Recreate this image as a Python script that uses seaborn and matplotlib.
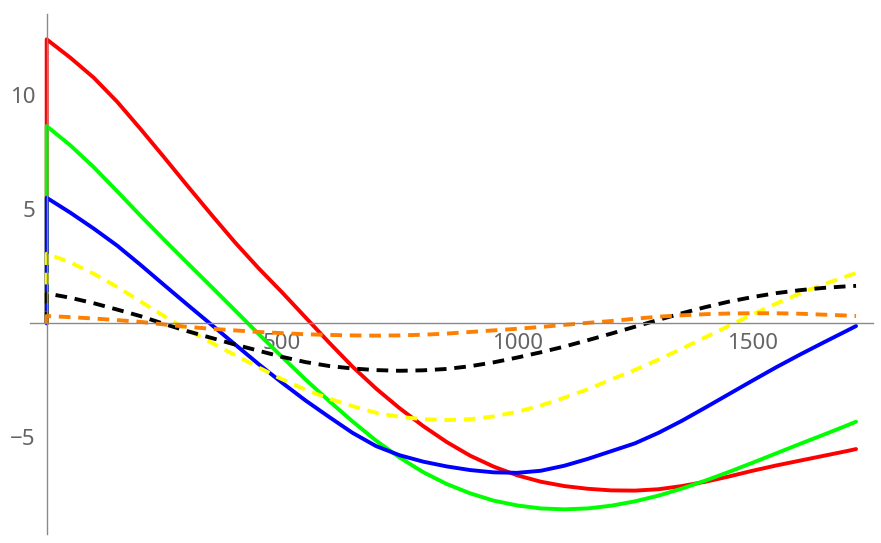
import numpy as np
import pandas as pd
import matplotlib
matplotlib.use("Agg")
import matplotlib.pyplot as plt
import seaborn as sns
from matplotlib.ticker import FixedLocator

# x positions where values were read (the doubled 0 gives the jump at x = 0)
xs = [0] + list(range(0, 1701, 50)) + [1720]

red = [0, 12.44, 11.64, 10.76, 9.7, 8.5, 7.26, 6.0, 4.76, 3.55, 2.42, 1.36, 0.26,
       -0.84, -1.9, -2.86, -3.72, -4.5, -5.2, -5.8, -6.28, -6.66, -6.94, -7.13,
       -7.25, -7.32, -7.33, -7.27, -7.13, -6.94, -6.71, -6.46, -6.23, -6.02, -5.81,
       -5.6, -5.51]
green = [0, 8.64, 7.8, 6.84, 5.78, 4.7, 3.65, 2.62, 1.6, 0.57, -0.46, -1.47, -2.46,
         -3.4, -4.3, -5.14, -5.88, -6.52, -7.04, -7.45, -7.77, -7.98, -8.11, -8.15,
         -8.11, -7.99, -7.8, -7.55, -7.24, -6.89, -6.51, -6.11, -5.7, -5.29, -4.89,
         -4.48, -4.31]
blue = [0, 5.5, 4.85, 4.15, 3.4, 2.55, 1.67, 0.8, -0.06, -0.92, -1.78, -2.6, -3.38,
        -4.1, -4.8, -5.38, -5.78, -6.06, -6.27, -6.43, -6.53, -6.55, -6.46, -6.24,
        -5.94, -5.6, -5.26, -4.8, -4.27, -3.69, -3.1, -2.51, -1.93, -1.38, -0.85,
        -0.33, -0.12]
yellow = [0, 3.05, 2.67, 2.17, 1.59, 0.95, 0.31, -0.29, -0.85, -1.39, -1.93, -2.45,
          -2.91, -3.3, -3.63, -3.92, -4.1, -4.2, -4.24, -4.2, -4.08, -3.88, -3.6,
          -3.26, -2.89, -2.46, -2.04, -1.59, -1.11, -0.61, -0.11, 0.39, 0.86, 1.3,
          1.7, 2.06, 2.2]
black = [0, 1.31, 1.12, 0.88, 0.6, 0.31, -0.03, -0.35, -0.64, -0.93, -1.2, -1.47,
         -1.7, -1.87, -1.98, -2.05, -2.08, -2.06, -2.0, -1.88, -1.71, -1.5, -1.27,
         -1.02, -0.74, -0.45, -0.15, 0.15, 0.44, 0.71, 0.95, 1.15, 1.32, 1.45, 1.55,
         1.62, 1.64]
orange = [0, 0.32, 0.27, 0.21, 0.14, 0.06, -0.05, -0.16, -0.24, -0.31, -0.38, -0.43,
          -0.48, -0.51, -0.53, -0.54, -0.53, -0.5, -0.45, -0.38, -0.31, -0.24, -0.16,
          -0.07, 0.02, 0.1, 0.2, 0.29, 0.35, 0.4, 0.43, 0.44, 0.44, 0.42, 0.38, 0.34,
          0.32]

series = [
    ("red", red, "#ff0000", "-"),
    ("green", green, "#00ff00", "-"),
    ("blue", blue, "#0000ff", "-"),
    ("yellow", yellow, "#ffff00", (0, (3, 2))),
    ("black", black, "#000000", (0, (3, 2))),
    ("orange", orange, "#ff8000", (0, (3, 2))),
]

sns.set_style("white")
plt.rcParams["font.family"] = ["Noto Sans", "DejaVu Sans"]

fig = plt.figure(figsize=(8.81, 5.43), dpi=100)
ax = fig.add_axes([0.0343, 0.0166, 0.9566, 0.9576])

for name, vals, col, ls in series:
    df = pd.DataFrame({"x": xs, "y": vals})
    sns.lineplot(data=df, x="x", y="y", ax=ax, color=col, linewidth=2.8,
                 linestyle=ls, estimator=None, sort=False)

ax.set_xlim(-35, 1756)
ax.set_ylim(-9.23, 13.55)
ax.set_xlabel("")
ax.set_ylabel("")

axis_col = "#8a8a8a"
for s in ["top", "right"]:
    ax.spines[s].set_visible(False)
ax.spines["left"].set_position(("data", 0))
ax.spines["bottom"].set_position(("data", 0))
for s in ["left", "bottom"]:
    ax.spines[s].set_color(axis_col)
    ax.spines[s].set_linewidth(1.0)

ax.xaxis.set_major_locator(FixedLocator([500, 1000, 1500]))
ax.xaxis.set_minor_locator(FixedLocator([v for v in range(100, 1800, 100) if v % 500]))
ax.yaxis.set_major_locator(FixedLocator([-5, 5, 10]))
ax.yaxis.set_minor_locator(FixedLocator([v for v in range(-9, 14) if v % 5]))

ax.tick_params(which="major", direction="in", length=4, width=0.8, color=axis_col,
               labelsize=16, labelcolor="#646464")
ax.tick_params(which="minor", direction="in", length=2.5, width=0.6, color=axis_col)
ax.tick_params(axis="x", pad=7)
ax.tick_params(axis="y", pad=8)
ax.set_yticklabels(["\u22125", "5", "10"])

fig.savefig("out.png", dpi=100)
